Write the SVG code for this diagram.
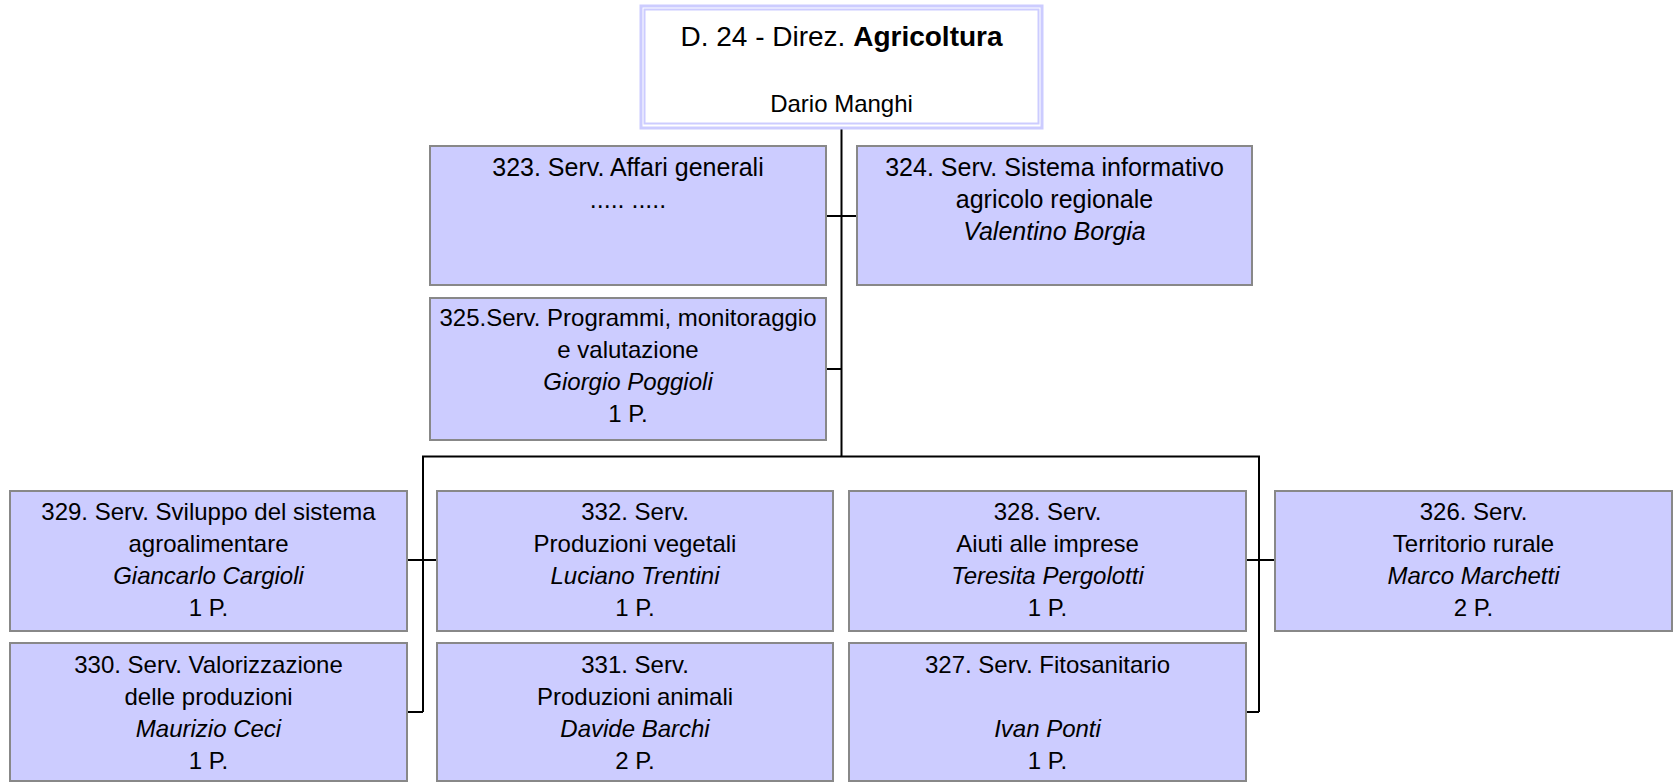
<svg xmlns="http://www.w3.org/2000/svg" width="1674" height="782" viewBox="0 0 1674 782">
<style>
.box{fill:#CCCCFF;stroke:#888888;stroke-width:2}
.top{fill:#FFFFFF;stroke:#CCCCFF}
.t{font-family:"Liberation Sans",Arial,sans-serif;font-size:24px;fill:#000;text-anchor:middle}
.n{font-size:25px}
.i{font-style:italic}
.b{font-weight:bold}
.c{fill:none;stroke:#000;stroke-width:2}
</style>
<rect width="1674" height="782" fill="#FFFFFF"/>
<g id="connectors">
<path class="c" d="M841.5 129V456.5"/>
<path class="c" d="M826 216H857"/>
<path class="c" d="M826 369H841.5"/>
<path class="c" d="M423 712V456.5H1259V712"/>
<path class="c" d="M407 560H437"/>
<path class="c" d="M407 712H423"/>
<path class="c" d="M1246 560H1275"/>
<path class="c" d="M1246 712H1259"/>
</g>
<g id="n-d24">
<rect class="top" x="641" y="6" width="401" height="122" stroke-width="3"/>
<rect class="top" x="644.5" y="9.5" width="394" height="114" stroke-width="2"/>
<text class="t" x="841.5" y="46" style="font-size:28px">D. 24 - Direz. <tspan class="b">Agricoltura</tspan></text>
<text class="t" x="841.5" y="112">Dario Manghi</text>
</g>
<g id="n-323">
<rect class="box" x="430" y="146" width="396" height="139"/>
<text class="t n" x="628" y="176">323. Serv. Affari generali</text>
<text class="t n" x="628" y="208">..... .....</text>
</g>
<g id="n-324">
<rect class="box" x="857" y="146" width="395" height="139"/>
<text class="t n" x="1054.5" y="176">324. Serv. Sistema informativo</text>
<text class="t n" x="1054.5" y="208">agricolo regionale</text>
<text class="t n i" x="1054.5" y="240">Valentino Borgia</text>
</g>
<g id="n-325">
<rect class="box" x="430" y="298" width="396" height="142"/>
<text class="t" x="628" y="326">325.Serv. Programmi, monitoraggio</text>
<text class="t" x="628" y="358">e valutazione</text>
<text class="t i" x="628" y="390">Giorgio Poggioli</text>
<text class="t" x="628" y="422">1 P.</text>
</g>
<g id="n-329">
<rect class="box" x="10" y="491" width="397" height="140"/>
<text class="t" x="208.5" y="520">329. Serv. Sviluppo del sistema</text>
<text class="t" x="208.5" y="552">agroalimentare</text>
<text class="t i" x="208.5" y="584">Giancarlo Cargioli</text>
<text class="t" x="208.5" y="616">1 P.</text>
</g>
<g id="n-332">
<rect class="box" x="437" y="491" width="396" height="140"/>
<text class="t" x="635" y="520">332. Serv.</text>
<text class="t" x="635" y="552">Produzioni vegetali</text>
<text class="t i" x="635" y="584">Luciano Trentini</text>
<text class="t" x="635" y="616">1 P.</text>
</g>
<g id="n-328">
<rect class="box" x="849" y="491" width="397" height="140"/>
<text class="t" x="1047.5" y="520">328. Serv.</text>
<text class="t" x="1047.5" y="552">Aiuti alle imprese</text>
<text class="t i" x="1047.5" y="584">Teresita Pergolotti</text>
<text class="t" x="1047.5" y="616">1 P.</text>
</g>
<g id="n-326">
<rect class="box" x="1275" y="491" width="397" height="140"/>
<text class="t" x="1473.5" y="520">326. Serv.</text>
<text class="t" x="1473.5" y="552">Territorio rurale</text>
<text class="t i" x="1473.5" y="584">Marco Marchetti</text>
<text class="t" x="1473.5" y="616">2 P.</text>
</g>
<g id="n-330">
<rect class="box" x="10" y="643" width="397" height="138"/>
<text class="t" x="208.5" y="673">330. Serv. Valorizzazione</text>
<text class="t" x="208.5" y="705">delle produzioni</text>
<text class="t i" x="208.5" y="737">Maurizio Ceci</text>
<text class="t" x="208.5" y="769">1 P.</text>
</g>
<g id="n-331">
<rect class="box" x="437" y="643" width="396" height="138"/>
<text class="t" x="635" y="673">331. Serv.</text>
<text class="t" x="635" y="705">Produzioni animali</text>
<text class="t i" x="635" y="737">Davide Barchi</text>
<text class="t" x="635" y="769">2 P.</text>
</g>
<g id="n-327">
<rect class="box" x="849" y="643" width="397" height="138"/>
<text class="t" x="1047.5" y="673">327. Serv. Fitosanitario</text>
<text class="t i" x="1047.5" y="737">Ivan Ponti</text>
<text class="t" x="1047.5" y="769">1 P.</text>
</g>
</svg>
